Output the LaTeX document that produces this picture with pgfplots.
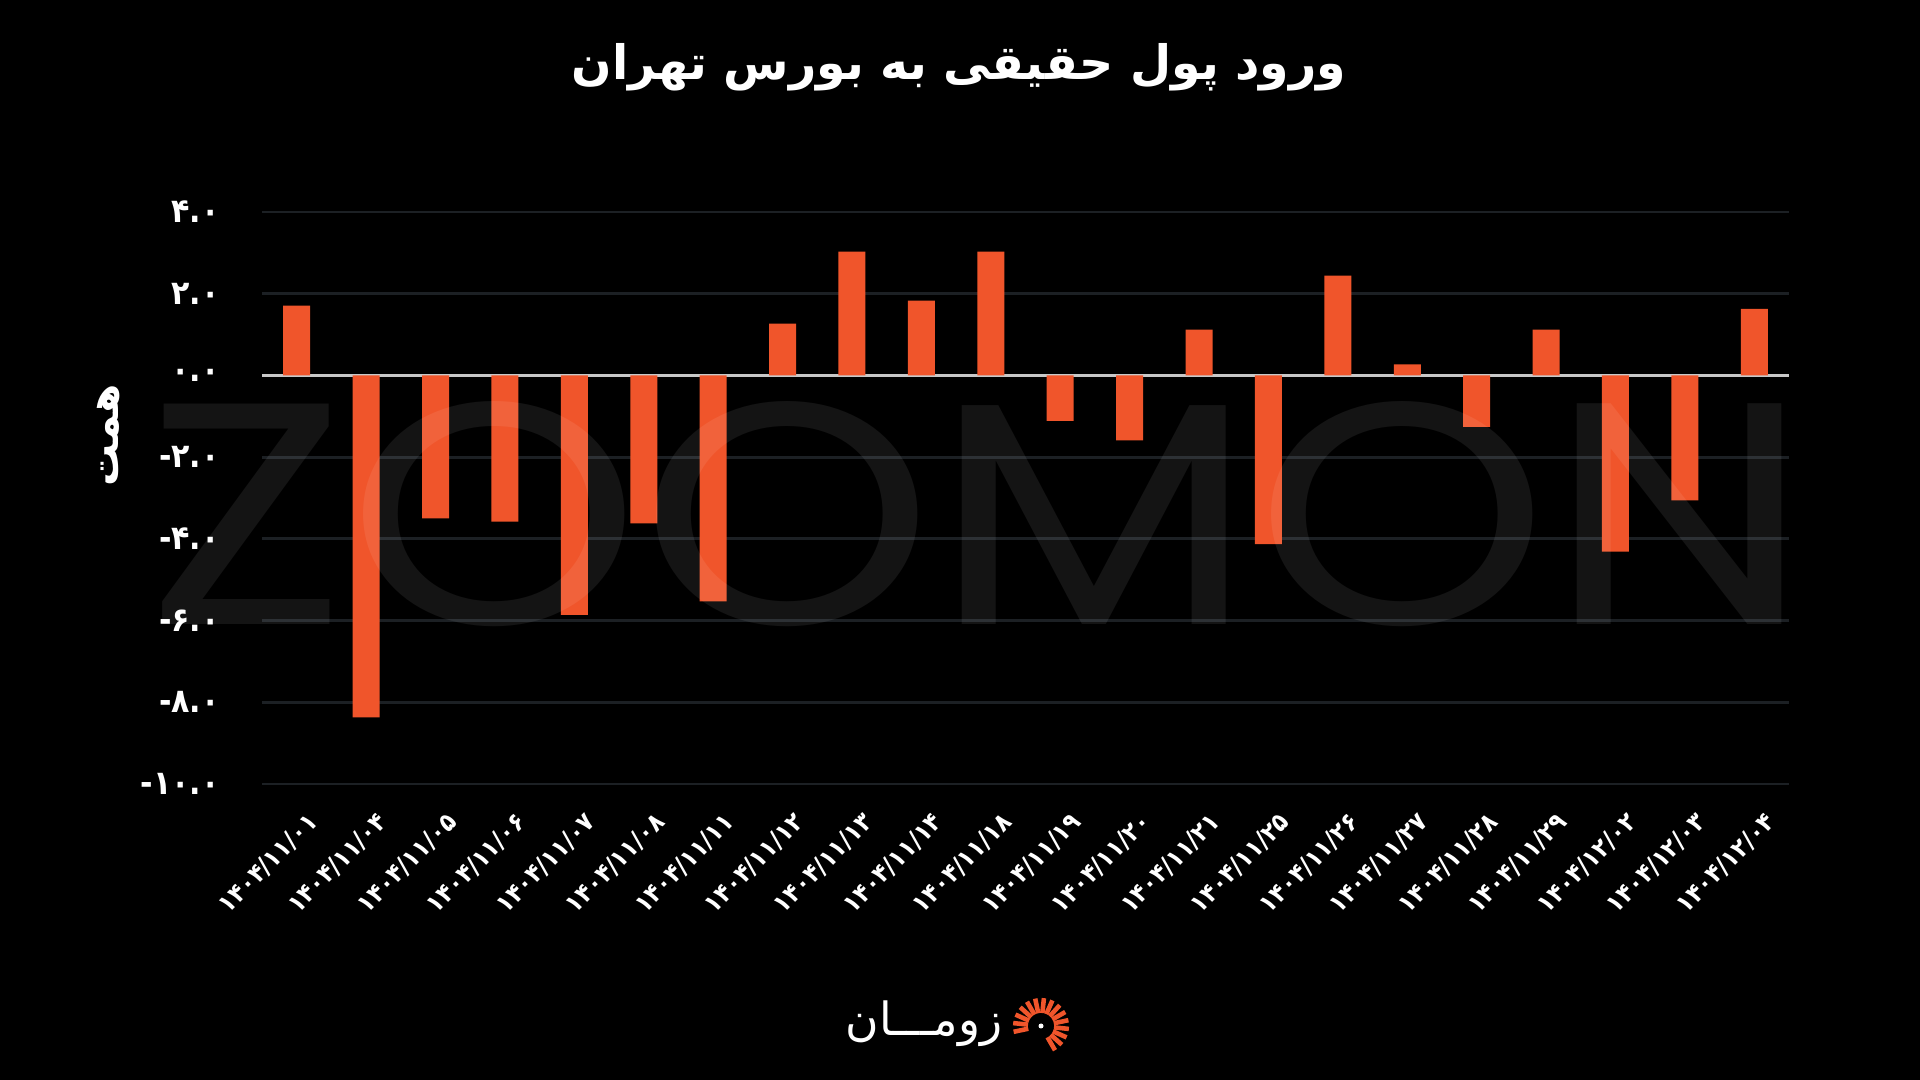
\documentclass[border=0pt]{standalone}
\usepackage{fontspec}
\usepackage{pgfplots}
\pgfplotsset{compat=1.18}
\setmainfont{DejaVu Sans}
\newfontfamily\arabicfont[Script=Arabic]{DejaVu Sans}
\newfontfamily\numfont{DejaVu Sans Condensed}
\newfontfamily\wmfont{Poppins}
\TeXXeTstate=1

\definecolor{barorange}{HTML}{F0552B}
\definecolor{gridgray}{HTML}{1C2024}
\definecolor{zeroline}{HTML}{C8C8C8}

% net inflow of retail money, hemat
\pgfplotstableread{
x y
0 1.71
1 -8.37
2 -3.50
3 -3.58
4 -5.86
5 -3.62
6 -5.53
7 1.27
8 3.03
9 1.83
10 3.03
11 -1.11
12 -1.59
13 1.12
14 -4.13
15 2.44
16 0.27
17 -1.26
18 1.12
19 -4.31
20 -3.06
21 1.63
}\inflow

\begin{document}
\begin{tikzpicture}
\fill[black] (0,0) rectangle (19.2,10.8);

\begin{axis}[
    at={(2.62cm,2.96cm)}, anchor=south west,
    scale only axis,
    width=15.27cm, height=5.72cm,
    xmin=-0.5, xmax=21.5,
    ymin=-10, ymax=4,
    axis line style={draw=none},
    major tick length=0pt,
    ymajorgrids,
    grid style={gridgray, line width=0.8pt},
    ytick={-10,-8,-6,-4,-2,0,2,4},
    yticklabels={-۱۰.۰,-۸.۰,-۶.۰,-۴.۰,-۲.۰,۰.۰,۲.۰,۴.۰},
    yticklabel style={font=\numfont\bfseries\fontsize{9.5}{11}\selectfont, text=white, anchor=east, xshift=-0.3cm},
    extra y ticks={0},
    extra y tick labels={},
    extra y tick style={grid style={zeroline, line width=1pt}},
    xtick={0,...,21},
    xticklabels={۱۴۰۴/۱۱/۰۱,۱۴۰۴/۱۱/۰۴,۱۴۰۴/۱۱/۰۵,۱۴۰۴/۱۱/۰۶,۱۴۰۴/۱۱/۰۷,۱۴۰۴/۱۱/۰۸,۱۴۰۴/۱۱/۱۱,۱۴۰۴/۱۱/۱۲,۱۴۰۴/۱۱/۱۳,۱۴۰۴/۱۱/۱۴,۱۴۰۴/۱۱/۱۸,۱۴۰۴/۱۱/۱۹,۱۴۰۴/۱۱/۲۰,۱۴۰۴/۱۱/۲۱,۱۴۰۴/۱۱/۲۵,۱۴۰۴/۱۱/۲۶,۱۴۰۴/۱۱/۲۷,۱۴۰۴/۱۱/۲۸,۱۴۰۴/۱۱/۲۹,۱۴۰۴/۱۲/۰۲,۱۴۰۴/۱۲/۰۳,۱۴۰۴/۱۲/۰۴},
    xticklabel style={font=\numfont\bfseries\fontsize{7.2}{9}\selectfont, text=white, rotate=45, anchor=east, yshift=-0.36cm},
    ylabel={\beginR همت\endR},
    every axis y label/.style={at={(rel axis cs:-0.1008,0.61)}, rotate=90, anchor=center,
        text=white, font=\arabicfont\bfseries\fontsize{12}{14}\selectfont},
    ybar, bar width=0.27cm,
]
\addplot[fill=barorange, draw=none] table[x=x, y=y] {\inflow};
\end{axis}

% watermark
\node[text=white, opacity=0.08, font=\wmfont\fontsize{90}{90}\selectfont, xscale=1.18, inner sep=0pt] at (9.78,5.66) {ZOOMON};

% title
\node[text=white, font=\arabicfont\bfseries\fontsize{13.5}{16}\selectfont] at (9.59,10.13) {\beginR ورود پول حقیقی به بورس تهران\endR};

% logo
\node[text=white, font=\arabicfont\fontsize{13}{16}\selectfont] at (9.24,0.56) {\beginR زومـــان\endR};
\foreach \a in {-60,-42,...,200} {
  \draw[barorange, line width=1.3pt] (10.41,0.54) ++(\a:0.13) -- ++(\a:0.15);
}
\fill[white] (10.41,0.54) circle (0.025);

\pgfresetboundingbox
\path[use as bounding box] (0,0) rectangle (19.2,10.8);
\end{tikzpicture}
\end{document}
